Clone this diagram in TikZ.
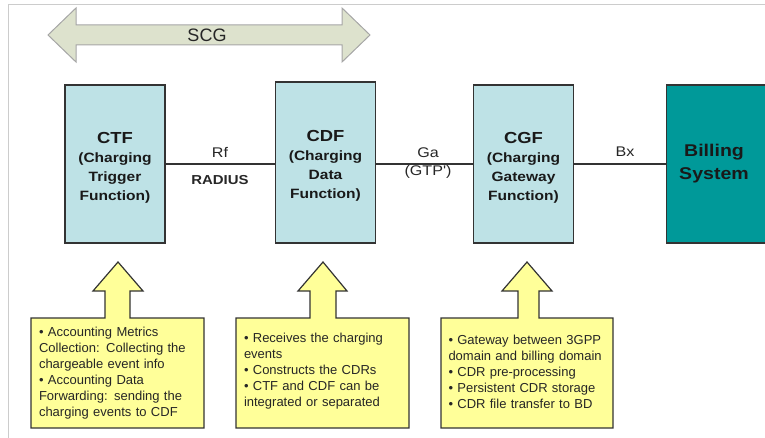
\documentclass[tikz,border=0pt]{standalone}
\usepackage{fontspec}
\setmainfont{Liberation Sans}
\newfontfamily\widesans[FakeStretch=1.15]{Liberation Sans}
\usetikzlibrary{positioning}

\definecolor{boxcyan}{RGB}{190,226,230}
\definecolor{billteal}{RGB}{0,153,153}
\definecolor{noteyellow}{RGB}{255,255,153}
\definecolor{scgfill}{RGB}{221,226,205}
\definecolor{edgegray}{RGB}{51,51,51}

\newcommand\functitle[1]{{\fontsize{16}{20}\selectfont\rule{0pt}{18.5pt}#1}}

\begin{document}
\begin{tikzpicture}[x=1pt,y=-1pt,
	func/.style={rectangle,draw=edgegray,line width=1.2pt,fill=boxcyan,minimum width=100pt,minimum height=158pt,align=center,text=black!90,font=\widesans\bfseries\fontsize{13.5}{19}\selectfont},
	ifc/.style={text=black!85,font=\widesans\fontsize{14}{18}\selectfont},
	note/.style={fill=noteyellow,draw=edgegray,line width=1.2pt},
	notetext/.style={align=left,inner sep=0pt,text width=157pt,text=black!85,font=\fontsize{13}{16}\selectfont},
	link/.style={draw=edgegray,line width=1.2pt}
	]
	\useasboundingbox (0,0) rectangle (765,438);
	\draw[gray!40,line width=1pt] (8,438) -- (8,5) -- (765,5);
	% SCG
	\filldraw[fill=scgfill,draw=gray!70,line width=1pt] (48,35) -- (76,8) -- (76,25) -- (342,25) -- (342,8) -- (370,35) -- (342,62) -- (342,45) -- (76,45) -- (76,62) -- cycle;
	\node[text=black!85,font=\fontsize{18}{20}\selectfont] (scg) at (207,35) {SCG};
	% functions
	\node[func] (ctf) at (115,164) {\functitle{CTF}\\(Charging\\Trigger\\Function)};
	\node[func,minimum height=161pt] (cdf) at (325.5,162.5) {\functitle{CDF}\\(Charging\\Data\\Function)};
	\node[func] (cgf) at (523.5,164) {\functitle{CGF}\\(Charging\\Gateway\\Function)};
	\node[func,fill=billteal,minimum width=106pt,anchor=west] (bill) at (666,164) {};
	\node[align=center,text=black!90,font=\widesans\bfseries\fontsize{17}{23}\selectfont] (billtxt) at (714,164) {Billing\\System};
	\draw[link] (ctf.east) -- (ctf.east -| cdf.west);
	\draw[link] (cdf.east |- cgf.west) -- (cgf.west);
	\draw[link] (cgf.east) -- (bill.west);
	\node[ifc] (rf) at (220,152) {Rf};
	\node[ifc,font=\widesans\bfseries\fontsize{13}{16}\selectfont] (radius) at (220,180) {RADIUS};
	\node[ifc] (ga) at (428,153) {Ga};
	\node[ifc] (gtp) at (428,172) {(GTP')};
	\node[ifc] (bx) at (625,152) {Bx};
	% callouts
	\filldraw[note] (31,318) -- (105,318) -- (105,291) -- (93,291) -- (118,262) -- (143,291) -- (130,291) -- (130,318) -- (204,318) -- (204,428) -- (31,428) -- cycle;
	\node[notetext] (ctfnote) at (117.5,373.5) {\textbullet\ Accounting Metrics\\Collection: Collecting the\\chargeable event info\\\textbullet\ Accounting Data\\Forwarding: sending the\\charging events to CDF};
	\filldraw[note] (236,318) -- (310,318) -- (310,291) -- (298,291) -- (323,262) -- (347,291) -- (336,291) -- (336,318) -- (409,318) -- (409,428) -- (236,428) -- cycle;
	\node[notetext] (cdfnote) at (322.5,371.5) {\textbullet\ Receives the charging\\events\\\textbullet\ Constructs the CDRs\\\textbullet\ CTF and CDF can be\\integrated or separated};
	\filldraw[note] (441,318) -- (518,318) -- (518,291) -- (502,291) -- (527,262) -- (552,291) -- (539,291) -- (539,318) -- (613,318) -- (613,428) -- (441,428) -- cycle;
	\node[notetext] (cgfnote) at (527,372) {\textbullet\ Gateway between 3GPP\\domain and billing domain\\\textbullet\ CDR pre-processing\\\textbullet\ Persistent CDR storage\\\textbullet\ CDR file transfer to BD};
\end{tikzpicture}
\end{document}
